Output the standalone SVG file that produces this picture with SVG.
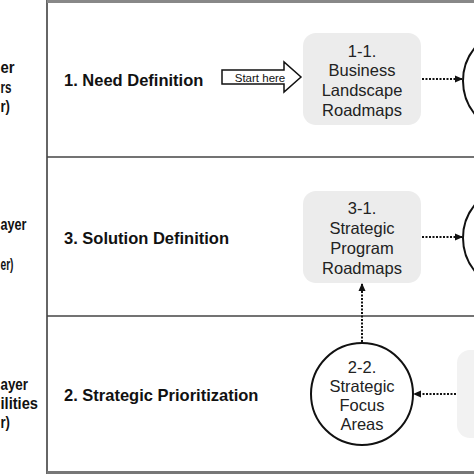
<svg xmlns="http://www.w3.org/2000/svg" width="474" height="474" viewBox="0 0 474 474">
<style>
.lay{font-family:"Liberation Sans",Arial,sans-serif;font-weight:bold;font-size:16px;fill:#111}
.row{font-family:"Liberation Sans",Arial,sans-serif;font-weight:bold;font-size:16.5px;fill:#111}
.nt{font-family:"Liberation Sans",Arial,sans-serif;font-size:16.5px;fill:#222;text-anchor:middle}
.box{fill:#ececec;stroke:none}
.circ{fill:#fff;stroke:#111;stroke-width:2}
.dot{stroke:#111;stroke-width:2;stroke-dasharray:2 1.5;fill:none}
</style>
<defs>
<marker id="ah" markerWidth="8" markerHeight="8" refX="7" refY="4" orient="auto" markerUnits="userSpaceOnUse">
<path d="M0,0.5 L8,4 L0,7.5 z" fill="#111"/>
</marker>
</defs>
<rect width="474" height="474" fill="#fff"/>
<g id="frame">
<line x1="47" y1="0" x2="47" y2="474" stroke="#666" stroke-width="2"/>
<line x1="47" y1="1.5" x2="474" y2="1.5" stroke="#888" stroke-width="3"/>
<line x1="47" y1="157" x2="474" y2="157" stroke="#444" stroke-width="1.5"/>
<line x1="47" y1="316" x2="474" y2="316" stroke="#444" stroke-width="1.5"/>
<line x1="47" y1="472.5" x2="474" y2="472.5" stroke="#777" stroke-width="3"/>
</g>
<g id="layer-labels">
<text class="lay" x="0.5" y="73" textLength="14" lengthAdjust="spacingAndGlyphs">er</text>
<text class="lay" x="0.5" y="93" textLength="11" lengthAdjust="spacingAndGlyphs">rs</text>
<text class="lay" x="0.5" y="112" textLength="9.5" lengthAdjust="spacingAndGlyphs">r)</text>
<text class="lay" x="0.5" y="230" textLength="26" lengthAdjust="spacingAndGlyphs">ayer</text>
<text class="lay" x="0.5" y="270" textLength="13" lengthAdjust="spacingAndGlyphs">er)</text>
<text class="lay" x="0.5" y="390" textLength="27.5" lengthAdjust="spacingAndGlyphs">ayer</text>
<text class="lay" x="0.5" y="409" textLength="37.5" lengthAdjust="spacingAndGlyphs">ilities</text>
<text class="lay" x="0.5" y="428" textLength="9.5" lengthAdjust="spacingAndGlyphs">r)</text>
</g>
<g id="row-labels">
<text class="row" x="64" y="86">1. Need Definition</text>
<text class="row" x="64" y="244">3. Solution Definition</text>
<text class="row" x="64" y="401">2. Strategic Prioritization</text>
</g>
<g id="start-arrow">
<path d="M222,70 L284,70 L284,62 L301,77 L284,92 L284,84 L222,84 z" fill="#fff" stroke="#111" stroke-width="1.5"/>
<text x="260" y="82" font-family="Liberation Sans, Arial, sans-serif" font-size="11.5" fill="#111" text-anchor="middle">Start here</text>
</g>
<g id="node-1-1">
<rect class="box" x="303" y="33" width="118" height="92" rx="13"/>
<text class="nt" x="362" y="57">1-1.</text>
<text class="nt" x="362" y="76">Business</text>
<text class="nt" x="362" y="96">Landscape</text>
<text class="nt" x="362" y="116">Roadmaps</text>
</g>
<g id="node-3-1">
<rect class="box" x="303" y="191" width="118" height="92" rx="13"/>
<text class="nt" x="362" y="214">3-1.</text>
<text class="nt" x="362" y="234">Strategic</text>
<text class="nt" x="362" y="254">Program</text>
<text class="nt" x="362" y="274">Roadmaps</text>
</g>
<g id="node-2-2">
<circle class="circ" cx="362" cy="394" r="51"/>
<text class="nt" x="362" y="373">2-2.</text>
<text class="nt" x="362" y="392">Strategic</text>
<text class="nt" x="362" y="411">Focus</text>
<text class="nt" x="362" y="430">Areas</text>
</g>
<g id="node-right-1">
<circle class="circ" cx="515" cy="81" r="52"/>
</g>
<g id="node-right-3">
<circle class="circ" cx="515" cy="238" r="52"/>
</g>
<g id="node-right-2">
<rect x="457" y="350" width="40" height="88" rx="13" fill="#f2f2f2"/>
</g>
<g id="connectors">
<line class="dot" x1="422" y1="79" x2="462" y2="79" marker-end="url(#ah)"/>
<line class="dot" x1="422" y1="237" x2="462" y2="237" marker-end="url(#ah)"/>
<line class="dot" x1="362" y1="342" x2="362" y2="284" marker-end="url(#ah)"/>
<line class="dot" x1="456" y1="394" x2="414" y2="394" marker-end="url(#ah)"/>
</g>
</svg>
